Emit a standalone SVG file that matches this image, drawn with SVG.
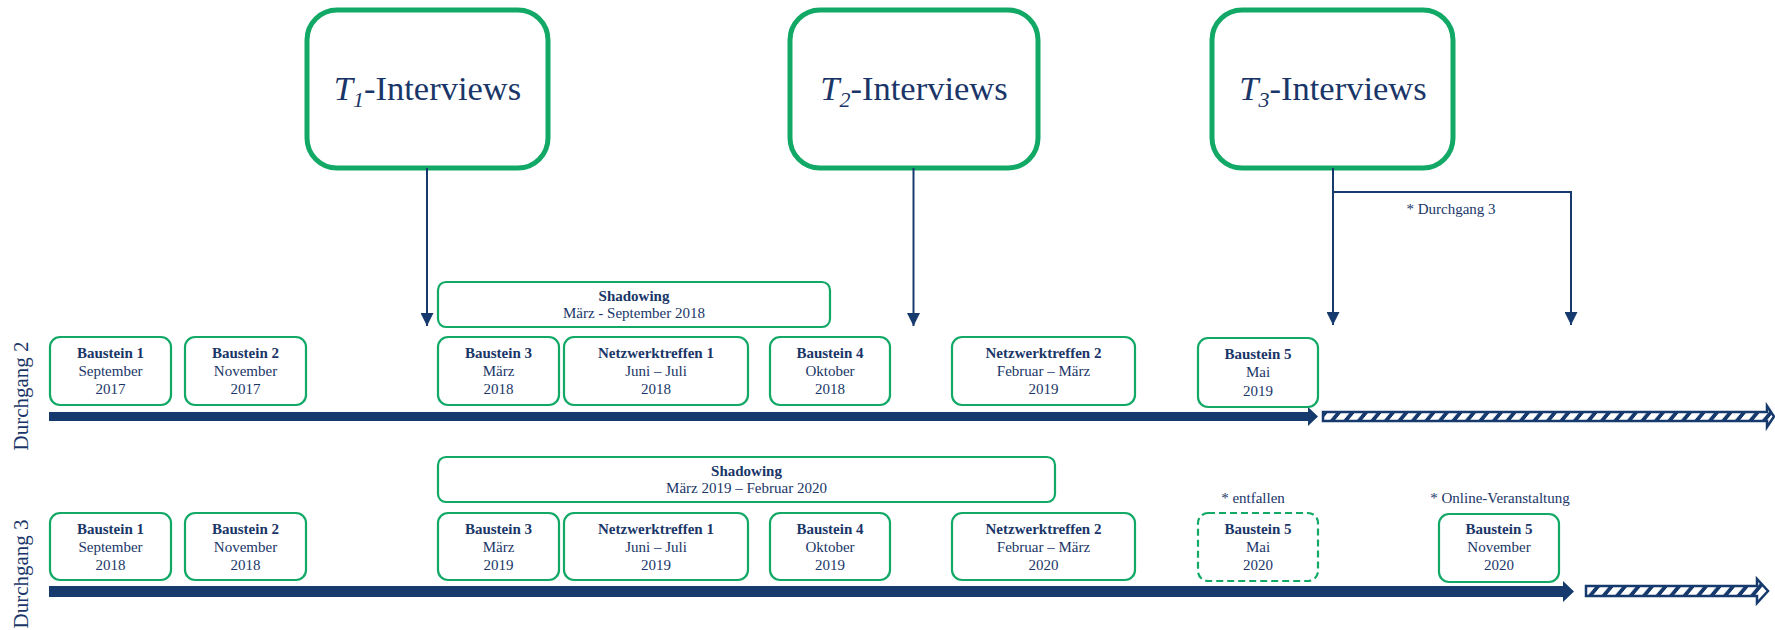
<svg xmlns="http://www.w3.org/2000/svg" width="1775" height="630" viewBox="0 0 1775 630">
<style>
text{font-family:"Liberation Serif","Times New Roman",serif;fill:#1a3668}
.big{fill:#fff;stroke:#12a866;stroke-width:5}
.box{fill:#fff;stroke:#12a866;stroke-width:2.2}
.dash{fill:#fff;stroke:#12a866;stroke-width:2.2;stroke-dasharray:7,4}
.t{font-size:15px;text-anchor:middle}
.b{font-weight:bold}
.iv{font-size:34.5px;text-anchor:middle}
.note{font-size:15px;text-anchor:middle}
.side{font-size:21px;text-anchor:middle}
.con{fill:none;stroke:#173a6e;stroke-width:2}
</style>
<defs>
<marker id="arr" viewBox="0 0 12 12" refX="12" refY="6" markerWidth="13" markerHeight="13" markerUnits="userSpaceOnUse" orient="auto">
<path d="M0,0 L12,6 L0,12 Z" fill="#173a6e"/>
</marker>
<pattern id="hatch" patternUnits="userSpaceOnUse" width="13.5" height="40" patternTransform="skewX(-40)">
<rect width="13.5" height="40" fill="#173a6e"/>
<rect x="0" width="8.5" height="40" fill="#fff"/>
</pattern>
</defs>

<g id="interview-t1"><rect class="big" x="307" y="10" width="241" height="158" rx="30"/>
<text class="iv" x="427.5" y="100"><tspan font-style="italic">T</tspan><tspan font-style="italic" font-size="22" dy="7">1</tspan><tspan dy="-7">-Interviews</tspan></text></g>
<g id="interview-t2"><rect class="big" x="790" y="10" width="248" height="158" rx="30"/>
<text class="iv" x="914" y="100"><tspan font-style="italic">T</tspan><tspan font-style="italic" font-size="22" dy="7">2</tspan><tspan dy="-7">-Interviews</tspan></text></g>
<g id="interview-t3"><rect class="big" x="1212" y="10" width="241" height="158" rx="30"/>
<text class="iv" x="1333" y="100"><tspan font-style="italic">T</tspan><tspan font-style="italic" font-size="22" dy="7">3</tspan><tspan dy="-7">-Interviews</tspan></text></g>

<g id="connectors">
<path class="con" d="M427,168 V326" marker-end="url(#arr)"/>
<path class="con" d="M913.5,168 V326" marker-end="url(#arr)"/>
<path class="con" d="M1333,168 V325" marker-end="url(#arr)"/>
<path class="con" d="M1333,192 H1571 V325" marker-end="url(#arr)"/>
<path d="M49,412 H1308 V407 L1318,416.5 L1308,426 V421 H49 Z" fill="#173a6e"/>
<path d="M1323,412 H1767 V406 L1774,416.5 L1767,427 V421 H1323 Z" fill="url(#hatch)" stroke="#173a6e" stroke-width="2.5"/>
<path d="M49,586 H1563 V581 L1574,591.5 L1563,602 V597 H49 Z" fill="#173a6e"/>
<path d="M1586,586 H1757 V579 L1768,591 L1757,603 V596 H1586 Z" fill="url(#hatch)" stroke="#173a6e" stroke-width="2.5"/>
</g>

<text class="note" x="1451" y="214">* Durchgang 3</text>
<text class="side" transform="translate(28,396) rotate(-90)">Durchgang 2</text>
<text class="side" transform="translate(28,574) rotate(-90)">Durchgang 3</text>

<!-- Durchgang 2 -->
<g id="d2-shadowing"><rect class="box" x="438" y="282" width="392" height="45" rx="8"/>
<text class="t b" x="634" y="301">Shadowing</text><text class="t" x="634" y="318">März - September 2018</text></g>
<g id="d2-b1"><rect class="box" x="50" y="337" width="121" height="68" rx="10"/>
<text class="t b" x="110.5" y="358">Baustein 1</text><text class="t" x="110.5" y="376">September</text><text class="t" x="110.5" y="394">2017</text></g>
<g id="d2-b2"><rect class="box" x="185" y="337" width="121" height="68" rx="10"/>
<text class="t b" x="245.5" y="358">Baustein 2</text><text class="t" x="245.5" y="376">November</text><text class="t" x="245.5" y="394">2017</text></g>
<g id="d2-b3"><rect class="box" x="438" y="337" width="121" height="68" rx="10"/>
<text class="t b" x="498.5" y="358">Baustein 3</text><text class="t" x="498.5" y="376">März</text><text class="t" x="498.5" y="394">2018</text></g>
<g id="d2-nt1"><rect class="box" x="564" y="337" width="184" height="68" rx="10"/>
<text class="t b" x="656" y="358">Netzwerktreffen 1</text><text class="t" x="656" y="376">Juni – Juli</text><text class="t" x="656" y="394">2018</text></g>
<g id="d2-b4"><rect class="box" x="770" y="337" width="120" height="68" rx="10"/>
<text class="t b" x="830" y="358">Baustein 4</text><text class="t" x="830" y="376">Oktober</text><text class="t" x="830" y="394">2018</text></g>
<g id="d2-nt2"><rect class="box" x="952" y="337" width="183" height="68" rx="10"/>
<text class="t b" x="1043.5" y="358">Netzwerktreffen 2</text><text class="t" x="1043.5" y="376">Februar – März</text><text class="t" x="1043.5" y="394">2019</text></g>
<g id="d2-b5"><rect class="box" x="1198" y="338" width="120" height="69" rx="10"/>
<text class="t b" x="1258" y="359">Baustein 5</text><text class="t" x="1258" y="377">Mai</text><text class="t" x="1258" y="396">2019</text></g>

<!-- Durchgang 3 -->
<g id="d3-shadowing"><rect class="box" x="438" y="457" width="617" height="45" rx="8"/>
<text class="t b" x="746.5" y="476">Shadowing</text><text class="t" x="746.5" y="493">März 2019 – Februar 2020</text></g>
<g id="d3-b1"><rect class="box" x="50" y="513" width="121" height="67" rx="10"/>
<text class="t b" x="110.5" y="534">Baustein 1</text><text class="t" x="110.5" y="552">September</text><text class="t" x="110.5" y="570">2018</text></g>
<g id="d3-b2"><rect class="box" x="185" y="513" width="121" height="67" rx="10"/>
<text class="t b" x="245.5" y="534">Baustein 2</text><text class="t" x="245.5" y="552">November</text><text class="t" x="245.5" y="570">2018</text></g>
<g id="d3-b3"><rect class="box" x="438" y="513" width="121" height="67" rx="10"/>
<text class="t b" x="498.5" y="534">Baustein 3</text><text class="t" x="498.5" y="552">März</text><text class="t" x="498.5" y="570">2019</text></g>
<g id="d3-nt1"><rect class="box" x="564" y="513" width="184" height="67" rx="10"/>
<text class="t b" x="656" y="534">Netzwerktreffen 1</text><text class="t" x="656" y="552">Juni – Juli</text><text class="t" x="656" y="570">2019</text></g>
<g id="d3-b4"><rect class="box" x="770" y="513" width="120" height="67" rx="10"/>
<text class="t b" x="830" y="534">Baustein 4</text><text class="t" x="830" y="552">Oktober</text><text class="t" x="830" y="570">2019</text></g>
<g id="d3-nt2"><rect class="box" x="952" y="513" width="183" height="67" rx="10"/>
<text class="t b" x="1043.5" y="534">Netzwerktreffen 2</text><text class="t" x="1043.5" y="552">Februar – März</text><text class="t" x="1043.5" y="570">2020</text></g>
<g id="d3-b5-entfallen"><text class="note" x="1253" y="503">* entfallen</text>
<rect class="dash" x="1198" y="513" width="120" height="68" rx="10"/>
<text class="t b" x="1258" y="534">Baustein 5</text><text class="t" x="1258" y="552">Mai</text><text class="t" x="1258" y="570">2020</text></g>
<g id="d3-b5-online"><text class="note" x="1500" y="503">* Online-Veranstaltung</text>
<rect class="box" x="1439" y="514" width="120" height="68" rx="10"/>
<text class="t b" x="1499" y="534">Baustein 5</text><text class="t" x="1499" y="552">November</text><text class="t" x="1499" y="570">2020</text></g>
</svg>
